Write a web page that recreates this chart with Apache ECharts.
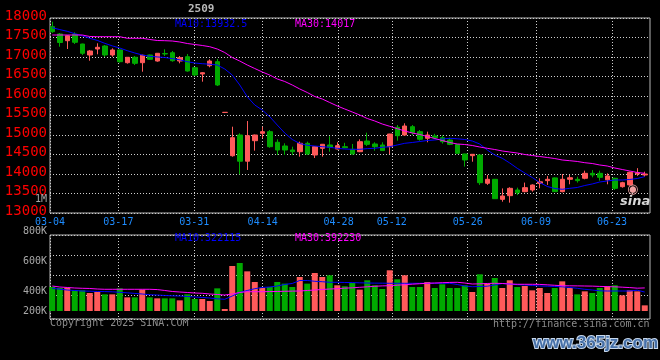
<!DOCTYPE html>
<html>
<head>
<meta charset="utf-8">
<script src="https://cdn.jsdelivr.net/npm/echarts@6/dist/echarts.min.js"></script>
<style>html,body{margin:0;padding:0;background:#000;}#c{width:660px;height:360px;}</style>
</head>
<body>
<div id="c"></div>
<script>
const dates = ['03-04','03-05','03-06','03-07','03-10','03-11','03-12','03-13','03-14','03-17','03-18','03-19','03-20','03-21','03-24','03-25','03-26','03-27','03-28','03-31',
'04-01','04-02','04-03','04-07','04-08','04-09','04-10','04-11','04-14','04-15','04-16','04-17','04-18','04-21','04-22','04-23','04-24','04-25','04-28','04-29','04-30',
'05-06','05-07','05-08','05-09','05-12','05-13','05-14','05-15','05-16','05-19','05-20','05-21','05-22','05-23','05-26','05-27','05-28','05-29','05-30',
'06-03','06-04','06-05','06-06','06-09','06-10','06-11','06-12','06-13','06-16','06-17','06-18','06-19','06-20','06-23','06-24','06-25','06-26','06-27','06-30'];
const xTickLabels = ['03-04','03-17','03-31','04-14','04-28','05-12','05-26','06-09','06-23'];
const priceTickLabels = [13000,13500,14000,14500,15000,15500,16000,16500,17000,17500,18000];
const volTickLabels = ['200K','400K','600K','800K'];

const opens  = [17777,17590,17418,17582,17333,17051,17205,17282,17051,17180,16854,16992,16854,17051,16897,17090,17110,16897,17008,16726,
16564,16777,16880,15578,14469,15000,14328,14854,15043,15085,14813,14718,14615,14572,14787,14487,14659,14744,14641,14700,14633,
14572,14846,14770,14744,14700,15197,15000,15213,15085,14915,14975,14930,14872,14760,14513,14470,14487,13762,13864,
13350,13444,13590,13547,13590,13760,13830,13900,13547,13864,13864,13890,14017,14017,13850,13890,13675,13720,14000,13975];
const closes = [17650,17372,17546,17377,17095,17154,17249,17051,17180,16880,16992,16838,17043,16941,17095,17077,16905,16982,16641,16538,
16597,16897,16282,15582,14931,14328,14982,15000,15085,14700,14615,14615,14572,14787,14513,14700,14762,14685,14726,14674,14513,
14828,14760,14700,14600,15025,14982,15230,15060,14890,15000,14930,14828,14760,14530,14360,14505,13777,13864,13367,
13436,13633,13520,13650,13718,13800,13864,13547,13864,13905,13830,14017,13975,13915,13950,13633,13777,14043,14030,14000];
const lows   = [17620,17264,17205,17333,17050,16905,17069,17000,17008,16854,16830,16795,16623,16930,16880,17025,16880,16838,16623,16513,
16367,16736,16256,15578,14444,13992,14103,14598,14915,14674,14487,14487,14487,14444,14487,14410,14444,14572,14630,14660,14500,
14560,14718,14598,14590,14513,14854,14975,15000,14854,14813,14890,14780,14740,14520,14190,14315,13720,13720,13360,
13290,13265,13460,13530,13547,13633,13720,13540,13530,13736,13780,13864,13915,13830,13736,13590,13650,13700,13950,13930];
const highs  = [17905,17615,17564,17633,17340,17180,17351,17308,17223,17190,17000,17025,17060,17060,17100,17197,17154,17025,17077,16740,
16610,16940,16950,15582,15213,15043,15359,15010,15213,15128,14890,14787,14700,14830,14830,14710,14770,14970,14813,14800,14770,
14890,15060,14813,14813,15030,15256,15300,15256,15128,15085,15030,14990,14930,14770,14520,14510,14500,13975,13870,
13630,13660,13650,13780,13735,13890,13950,13910,14000,13975,13930,14085,14100,14085,14017,13905,13800,14060,14150,14060];

const ma10 = [17751,17703,17659,17597,17544,17480,17426,17351,17285,17231,17162,17103,17051,17018,17002,16987,16959,16928,16880,16846,
16828,16815,16795,16692,16538,16282,15982,15769,15641,15469,15256,15051,14885,14782,14736,14718,14700,14685,14659,14641,14633,
14633,14651,14659,14685,14700,14744,14787,14808,14833,14859,14872,14897,14915,14903,14885,14846,14769,14615,14487,
14403,14282,14146,14026,13910,13782,13680,13628,13608,13633,13654,13705,13744,13795,13821,13846,13846,13859,13885,13932.5];
const ma30 = [17564,17564,17564,17564,17564,17526,17521,17521,17521,17521,17480,17480,17480,17449,17423,17418,17410,17385,17346,17321,
17295,17264,17205,17115,16987,16897,16795,16705,16615,16538,16436,16372,16282,16180,16090,15987,15923,15833,15744,15667,15590,
15513,15423,15359,15282,15223,15162,15103,15051,15013,14962,14910,14859,14808,14769,14756,14731,14692,14659,14628,
14590,14564,14538,14500,14474,14449,14423,14397,14359,14341,14321,14290,14269,14231,14205,14154,14115,14077,14038,14017];

const volumes = [408000,391000,397000,351000,351000,306000,323000,283000,283000,385000,232000,232000,363000,232000,215000,215000,215000,181000,283000,204000,
204000,170000,385000,34000,765000,816000,674000,493000,391000,408000,493000,465000,408000,578000,465000,646000,578000,607000,437000,420000,476000,
363000,522000,437000,374000,692000,539000,607000,408000,408000,493000,391000,454000,391000,391000,437000,323000,624000,465000,561000,
391000,522000,408000,425000,351000,391000,306000,391000,504000,391000,283000,334000,306000,391000,420000,437000,266000,351000,334000,96000];
const volMa10 = [386000,371000,357000,349000,340000,337000,332000,330000,326000,318000,309000,299000,289000,277000,272000,264000,258000,255000,247000,238000,
230000,221000,207000,199000,255000,315000,349000,379000,400000,408000,425000,451000,468000,519000,519000,505000,498000,488000,488000,485000,483000,
479000,476000,474000,473000,471000,471000,471000,471000,471000,471000,471000,471000,471000,451000,425000,413000,417000,422000,442000,
468000,459000,447000,442000,434000,425000,422000,417000,411000,400000,386000,369000,357000,343000,340000,340000,340000,340000,354000,322115];
const volMa30 = [425000,408000,400000,391000,386000,383000,374000,369000,369000,369000,369000,369000,369000,369000,364000,349000,332000,323000,315000,306000,
301000,289000,281000,272000,289000,315000,328000,328000,328000,330000,332000,335000,338000,340000,349000,357000,366000,374000,379000,388000,394000,
403000,411000,420000,427000,430000,439000,447000,456000,464000,471000,476000,481000,486000,488000,476000,459000,462000,468000,471000,
468000,459000,454000,454000,454000,452000,445000,437000,430000,428000,427000,425000,423000,418000,415000,411000,405000,398000,388000,392230];

const RED = '#ff5a5a', GREEN = '#00aa00', DOT = '#cfcfcf', BORDER = '#b8b8b8';
const MONO = 'DejaVu Sans Mono';
const showDate = (i, v) => xTickLabels.indexOf(v) >= 0;

const candleData = dates.map((d, i) => [opens[i], closes[i], lows[i], highs[i]]);
const volData = volumes.map((v, i) => ({ value: v, itemStyle: { color: closes[i] >= opens[i] ? RED : GREEN } }));
const volLabelPos = { 80: volTickLabels[0], 60: volTickLabels[1], 30: volTickLabels[2], 0: volTickLabels[3] };

const t = (text, pos, style) => Object.assign({ text: text, padding: 0, itemGap: 0,
  textStyle: Object.assign({ fontFamily: MONO, fontSize: 10, fontWeight: 'normal', color: '#999' }, style) }, pos);

const chart = echarts.init(document.getElementById('c'), null, { renderer: 'canvas' });
chart.setOption({
  backgroundColor: '#000000',
  animation: false,
  title: [
    t('2509', { left: 188, top: 4 }, { fontSize: 11, fontWeight: 'bold', color: '#b8b8b8' }),
    t('MA10:' + ma10[ma10.length - 1], { left: 175, top: 19 }, { color: '#0000ff' }),
    t('MA30:' + ma30[ma30.length - 1], { left: 295, top: 19 }, { color: '#ff00ff' }),
    t('MA10:' + volMa10[volMa10.length - 1], { left: 175, top: 233 }, { color: '#0000ff' }),
    t('MA30:' + volMa30[volMa30.length - 1], { left: 295, top: 233 }, { color: '#ff00ff' }),
    t('1M', { left: 35, top: 194 }, { color: '#a8a8a8' }),
    t('Copyright 2025 SINA.COM', { left: 50, top: 318 }, { color: '#8c8c8c' }),
    t('http://finance.sina.com.cn', { left: 493, top: 319 }, { color: '#8c8c8c' }),
    t('◉', { left: 627, top: 183 }, { fontFamily: 'DejaVu Sans', fontSize: 13, color: '#f0a0a0' }),
    t('sina', { left: 620, top: 195 }, { fontFamily: 'DejaVu Sans', fontSize: 13, fontWeight: 'bold', fontStyle: 'italic', color: '#d8d8d8' }),
    t('www.365jz.com', { left: 533, top: 335 }, { fontFamily: 'Liberation Sans', fontSize: 17, fontWeight: 'bold', color: '#4670a8', textBorderColor: '#c8d8ec', textBorderWidth: 2 })
  ],
  grid: [
    { left: 50, top: 18, width: 600, height: 195, show: true, borderColor: BORDER, borderWidth: 1, backgroundColor: 'transparent' },
    { left: 48.5, top: 18, width: 600, height: 195 },
    { left: 50, top: 235, width: 600, height: 84, show: true, borderColor: BORDER, borderWidth: 1, backgroundColor: 'transparent' },
    { left: 48.5, top: 235, width: 600, height: 84 }
  ],
  xAxis: [
    { gridIndex: 0, type: 'category', data: dates, boundaryGap: false,
      axisLine: { show: false }, axisTick: { show: false },
      axisLabel: { interval: showDate, color: '#1e8cff', fontFamily: MONO, fontSize: 10, margin: 4 },
      splitLine: { show: true, interval: showDate, lineStyle: { color: DOT, width: 1, type: [1, 2] } } },
    { gridIndex: 1, type: 'category', data: dates, boundaryGap: true, show: false },
    { gridIndex: 2, type: 'category', data: dates, boundaryGap: false,
      axisLine: { show: false }, axisTick: { show: false }, axisLabel: { show: false },
      splitLine: { show: true, interval: showDate, lineStyle: { color: DOT, width: 1, type: [1, 2] } } },
    { gridIndex: 3, type: 'category', data: dates, boundaryGap: true, show: false }
  ],
  yAxis: [
    { gridIndex: 0, type: 'value', min: priceTickLabels[0], max: priceTickLabels[priceTickLabels.length - 1], interval: priceTickLabels[1] - priceTickLabels[0],
      axisLine: { show: false }, axisTick: { show: false },
      axisLabel: { formatter: v => String(v), color: '#ff0000', fontFamily: MONO, fontSize: 14, margin: 3, verticalAlign: 'bottom', lineHeight: 4 },
      splitLine: { show: true, lineStyle: { color: DOT, width: 1, type: [1, 2] } } },
    { gridIndex: 1, type: 'value', min: priceTickLabels[0], max: priceTickLabels[priceTickLabels.length - 1], show: false },
    { gridIndex: 2, type: 'value', inverse: true, min: 0, max: 84, interval: 20,
      axisLine: { show: false }, axisTick: { show: false },
      axisLabel: { customValues: [80, 60, 30, 0], formatter: v => volLabelPos[v] || '',
        color: '#a8a8a8', fontFamily: MONO, fontSize: 10, margin: 3, verticalAlign: 'bottom', lineHeight: 8 },
      splitLine: { show: true, lineStyle: { color: [DOT, DOT, DOT, DOT, 'rgba(0,0,0,0)', DOT], width: 1, type: [1, 2] } } },
    { gridIndex: 3, type: 'value', min: -136000, max: 1292000, show: false }
  ],
  series: [
    { type: 'candlestick', xAxisIndex: 1, yAxisIndex: 1, data: candleData, barWidth: 5,
      itemStyle: { color: RED, color0: GREEN, borderColor: RED, borderColor0: GREEN, borderWidth: 1 } },
    { type: 'line', xAxisIndex: 1, yAxisIndex: 1, data: ma10, showSymbol: false, symbol: 'none',
      lineStyle: { color: '#0000ff', width: 1 }, z: 3 },
    { type: 'line', xAxisIndex: 1, yAxisIndex: 1, data: ma30, showSymbol: false, symbol: 'none',
      lineStyle: { color: '#ff00ff', width: 1 }, z: 3 },
    { type: 'bar', xAxisIndex: 3, yAxisIndex: 3, data: volData, barWidth: 6 },
    { type: 'line', xAxisIndex: 3, yAxisIndex: 3, data: volMa10, showSymbol: false, symbol: 'none',
      lineStyle: { color: '#0000ff', width: 1 }, z: 3 },
    { type: 'line', xAxisIndex: 3, yAxisIndex: 3, data: volMa30, showSymbol: false, symbol: 'none',
      lineStyle: { color: '#ff00ff', width: 1 }, z: 3 }
  ]
});
</script>
</body>
</html>
